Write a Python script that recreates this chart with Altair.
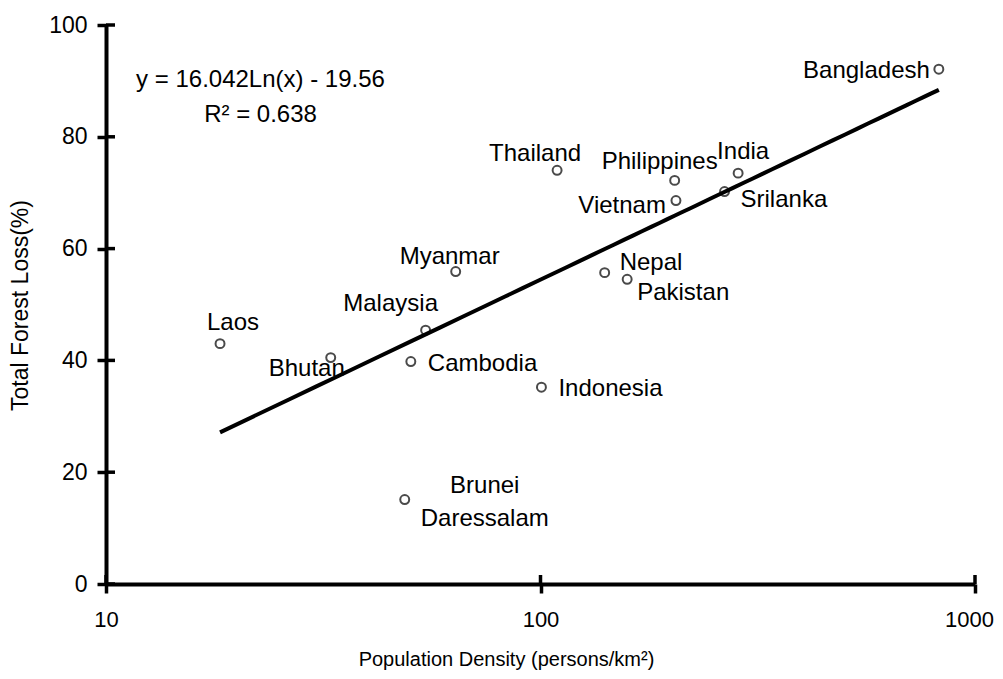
import altair as alt
import pandas as pd

countries = ["Laos", "Bhutan", "Malaysia", "Cambodia", "Brunei\nDaressalam", "Indonesia",
             "Myanmar", "Thailand", "Philippines", "Vietnam", "India", "Srilanka",
             "Nepal", "Pakistan", "Bangladesh"]
density = [18.3, 32.9, 54.4, 50.3, 48.7, 100.5, 63.8, 109.2, 203.6, 205.0, 285.0, 265.2,
           140.5, 158.3, 825.6]
forest_loss = [43.0, 40.5, 45.4, 39.8, 15.1, 35.2, 55.9, 74.0, 72.2, 68.6, 73.5, 70.2,
               55.7, 54.5, 92.1]

x_ticks = [10, 100, 1000]
y_ticks = [0, 20, 40, 60, 80, 100]
equation_lines = ["y = 16.042Ln(x) - 19.56", "R\u00b2 = 0.638"]

df = pd.DataFrame({"country": countries, "density": density, "loss": forest_loss})
xt = pd.DataFrame({"v": x_ticks})
yt = pd.DataFrame({"v": y_ticks})

W, H = 869, 559
FONT = "Liberation Sans"

xscale = alt.Scale(type="log", domain=[10, 1000], nice=False)
yscale = alt.Scale(domain=[0, 100], nice=False, zero=False)

xaxis = alt.Axis(values=x_ticks, format="d", grid=False, tickSize=9, tickWidth=3.5,
                 domainWidth=4, domainColor="black", tickColor="black",
                 labelFontSize=22, labelColor="black", labelPadding=16, labelFlush=False,
                 labelOffset={"condition": {"test": "datum.value == 1000", "value": -6},
                              "value": 0},
                 labelFont=FONT, titleFont=FONT, titleFontSize=20,
                 titleFontWeight="normal", titleColor="black",
                 title="Population Density (persons/km\u00b2)",
                 titleX=400, titleY=81, titleBaseline="alphabetic",
                 titleAlign="center")
yaxis = alt.Axis(values=y_ticks, grid=False, tickSize=9, tickWidth=3.5,
                 domainWidth=4, domainColor="black", tickColor="black",
                 labelFontSize=23, labelColor="black", labelPadding=10, labelFlush=False,
                 labelFont=FONT, titleFont=FONT, titleFontSize=23,
                 titleFontWeight="normal", titleColor="black",
                 title="Total Forest Loss(%)", titleAngle=270,
                 titleX=-79, titleY=280, titleBaseline="alphabetic",
                 titleAlign="center")

X = alt.X("density:Q", scale=xscale, axis=xaxis)
Y = alt.Y("loss:Q", scale=yscale, axis=yaxis)

base = alt.Chart(df)

points = base.mark_point(shape="circle", filled=False, size=80, strokeWidth=2,
                         color="#4a4a4a", opacity=1).encode(x=X, y=Y)

trend = base.transform_regression("density", "loss", method="log").mark_line(
    color="black", strokeWidth=4).encode(x=X, y=Y)

label_style = {
    "Bangladesh": ("right", -9, 2),
    "Thailand": ("center", -22, -16),
    "Philippines": ("center", -15, -18),
    "India": ("center", 5, -21),
    "Vietnam": ("right", -10, 5),
    "Srilanka": ("left", 16, 8),
    "Nepal": ("left", 15, -10),
    "Pakistan": ("left", 10, 14),
    "Myanmar": ("center", -6, -15),
    "Malaysia": ("center", -35, -26),
    "Laos": ("center", 13, -21),
    "Bhutan": ("center", -24, 11),
    "Cambodia": ("left", 17, 2),
    "Indonesia": ("left", 17, 2),
    "Brunei\nDaressalam": ("center", 80, -14),
}

label_layers = []
for name, (align, dx, dy) in label_style.items():
    label_layers.append(
        base.transform_filter(alt.datum.country == name).mark_text(
            align=align, baseline="middle", dx=dx, dy=dy, fontSize=24, font=FONT,
            color="black", lineBreak="\n", lineHeight=33).encode(
            x=X, y=Y, text="country:N")
    )

eq = alt.Chart(pd.DataFrame({"t": ["\n".join(equation_lines)]})).mark_text(
    align="center", baseline="middle", fontSize=24, font=FONT, color="black",
    lineBreak="\n", lineHeight=35).encode(
    x=alt.value(154.5), y=alt.value(54.5), text="t:N")

ytick_in = alt.Chart(yt).mark_rule(color="black", strokeWidth=3.5).encode(
    y=alt.Y("v:Q", scale=yscale, axis=yaxis), x=alt.value(0), x2=alt.value(9))
xtick_in = alt.Chart(xt).mark_rule(color="black", strokeWidth=3.5).encode(
    x=alt.X("v:Q", scale=xscale, axis=xaxis), y=alt.value(H - 9), y2=alt.value(H))

chart = alt.layer(points, trend, *label_layers, eq, ytick_in, xtick_in).properties(
    width=W, height=H,
    autosize=alt.AutoSizeParams(type="none"),
    padding={"left": 98, "top": 17, "right": 20, "bottom": 87},
).configure(background="white", font=FONT).configure_view(stroke=None)

chart.save("out.html", embed_options={"renderer": "svg", "actions": False})
